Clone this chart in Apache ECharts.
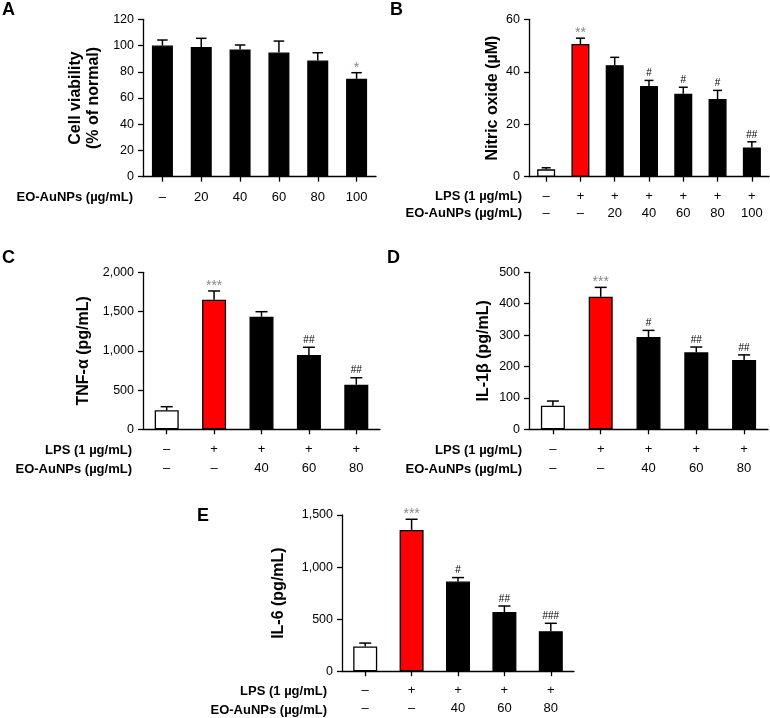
<!DOCTYPE html>
<html>
<head>
<meta charset="utf-8">
<script src="https://cdn.jsdelivr.net/npm/echarts@6/dist/echarts.min.js"></script>
<style>
html,body{margin:0;padding:0;background:#fff;}
#chart{width:770px;height:718px;}
</style>
</head>
<body>
<div id="chart"></div>
<script>
// ---------- data ----------
// Panel A
var aEO = ['–','20','40','60','80','100'];
var aVal = [100, 98.8, 97, 94.7, 88.6, 74.6];
var aSD = [4.2, 6.7, 3.4, 8.7, 5.9, 4.7];
var aAnn = ['', '', '', '', '', '*'];
var aTicks = [0, 20, 40, 60, 80, 100, 120];
// Panel B
var bLPS = ['–','+','+','+','+','+','+'];
var bEO = ['–','–','20','40','60','80','100'];
var bVal = [2.8, 50.6, 42.5, 34.6, 31.6, 29.6, 11.1];
var bSD = [0.6, 2.2, 3.0, 2.1, 2.5, 3.3, 2.2];
var bAnn = ['', '**', '', '#', '#', '#', '##'];
var bTicks = [0, 20, 40, 60];
// Panel C
var cLPS = ['–','+','+','+','+'];
var cEO = ['–','–','40','60','80'];
var cVal = [242, 1651, 1434, 946, 568];
var cSD = [46, 111, 64, 99, 89];
var cAnn = ['', '***', '', '##', '##'];
var cTicks = [0, 500, 1000, 1500, 2000];
// Panel D
var dLPS = ['–','+','+','+','+'];
var dEO = ['–','–','40','60','80'];
var dVal = [75, 422, 294, 245, 221];
var dSD = [15, 30, 21, 17, 16];
var dAnn = ['', '***', '#', '##', '##'];
var dTicks = [0, 100, 200, 300, 400, 500];
// Panel E
var eLPS = ['–','+','+','+','+'];
var eEO = ['–','–','40','60','80'];
var eVal = [238, 1357, 861, 568, 384];
var eSD = [32, 102, 38, 58, 76];
var eAnn = ['', '***', '#', '##', '###'];
var eTicks = [0, 500, 1000, 1500];

// ---------- helpers ----------
var FONT = '"Liberation Sans", Arial, Helvetica, sans-serif';
function fmtComma(v){ return String(v).replace(/\B(?=(\d{3})+(?!\d))/g, ','); }

var panels = [
  {lps:null, eo:aEO, val:aVal, sd:aSD, ann:aAnn, ticks:aTicks, name:'Cell viability\n(% of normal)', nameGap:40, comma:false,
   grid:{left:143, top:19.3, width:233, height:157.4}, barW:21, lh:17, margin:12, ctrl:false},
  {lps:bLPS, eo:bEO, val:bVal, sd:bSD, ann:bAnn, ticks:bTicks, name:'Nitric oxide (µM)', nameGap:27, comma:false,
   grid:{left:529, top:19.3, width:240, height:157.4}, barW:18, lh:16.6, margin:11.5, ctrl:true},
  {lps:cLPS, eo:cEO, val:cVal, sd:cSD, ann:cAnn, ticks:cTicks, name:'TNF-α (pg/mL)', nameGap:50, comma:true,
   grid:{left:143, top:272.3, width:237, height:157}, barW:24, lh:19, margin:11, ctrl:true},
  {lps:dLPS, eo:dEO, val:dVal, sd:dSD, ann:dAnn, ticks:dTicks, name:'IL-1β (pg/mL)', nameGap:36, comma:false,
   grid:{left:529, top:272.3, width:239, height:157}, barW:24, lh:19, margin:11, ctrl:true},
  {lps:eLPS, eo:eEO, val:eVal, sd:eSD, ann:eAnn, ticks:eTicks, name:'IL-6 (pg/mL)', nameGap:54, comma:true,
   grid:{left:342, top:515, width:232, height:157.3}, barW:24, lh:18.4, margin:10, ctrl:true}
];

var option = {
  backgroundColor:'#fff',
  animation:false,
  textStyle:{fontFamily:FONT},
  grid:[], xAxis:[], yAxis:[], series:[], graphic:[]
};

panels.forEach(function(p, gi){
  option.grid.push(p.grid);
  var cats = p.eo.map(function(e, i){ return p.lps ? (p.lps[i] + '\n' + e) : e; });
  option.xAxis.push({
    type:'category', gridIndex:gi, data:cats, boundaryGap:true,
    axisLine:{lineStyle:{color:'#000', width:1.3}},
    axisTick:{show:true, alignWithLabel:true, length:5, lineStyle:{color:'#000', width:1.3}},
    axisLabel:{color:'#000', fontSize:13, fontFamily:FONT, lineHeight:p.lh, margin:p.margin, interval:0}
  });
  var n = p.ticks.length;
  option.yAxis.push({
    type:'value', gridIndex:gi, min:p.ticks[0], max:p.ticks[n-1], interval:p.ticks[1]-p.ticks[0],
    splitLine:{show:false},
    axisLine:{show:true, lineStyle:{color:'#000', width:1.3}},
    axisTick:{show:true, length:5, lineStyle:{color:'#000', width:1.3}},
    axisLabel:{color:'#000', fontSize:12.5, fontFamily:FONT, margin:9,
      formatter:function(v){ return p.comma ? fmtComma(v) : String(v); }},
    name:p.name, nameLocation:'middle', nameRotate:90, nameGap:p.nameGap,
    nameTextStyle:{color:'#000', fontSize:16, fontWeight:'bold', fontFamily:FONT, lineHeight:18}
  });
  option.series.push({
    type:'bar', xAxisIndex:gi, yAxisIndex:gi, barWidth:p.barW,
    data:p.val.map(function(v, i){
      var fill = '#000';
      if (p.ctrl && i === 0) fill = '#fff';
      if (p.ctrl && i === 1) fill = '#ff0000';
      return {value:v, itemStyle:{color:fill, borderColor:'#000', borderWidth:1.3}};
    }),
    z:2
  });
  option.series.push({
    type:'custom', xAxisIndex:gi, yAxisIndex:gi, z:3, clip:false,
    data:p.val.map(function(v, i){ return [i, v, v + p.sd[i]]; }),
    encode:{x:0, y:[1,2]},
    renderItem:function(params, api){
      var i = api.value(0);
      var pv = api.coord([i, api.value(1)]);
      var pt = api.coord([i, api.value(2)]);
      var cap = p.barW * 0.25;
      var ann = p.ann[params.dataIndex];
      var isStar = ann.indexOf('*') >= 0;
      var children = [
        {type:'line', shape:{x1:pv[0], y1:pv[1], x2:pt[0], y2:pt[1]}, style:{stroke:'#000', lineWidth:1.5}},
        {type:'line', shape:{x1:pt[0]-cap, y1:pt[1], x2:pt[0]+cap, y2:pt[1]}, style:{stroke:'#000', lineWidth:1.5}}
      ];
      if (ann) {
        children.push({type:'text', style:{
          text:ann, x:pt[0], y:isStar ? pt[1]+2 : pt[1]-2,
          align:'center', verticalAlign:'bottom',
          fill:isStar ? '#888' : '#000',
          fontSize:isStar ? 14 : 10, fontFamily:FONT
        }});
      }
      return {type:'group', children:children};
    }
  });
});

// panel letters
var letters = [['A',2,1],['B',390,1],['C',2,249],['D',387,249],['E',197,507]];
letters.forEach(function(l){
  option.graphic.push({type:'text', left:l[1], top:l[2],
    style:{text:l[0], fontSize:18, fontWeight:'bold', fill:'#000', fontFamily:FONT}});
});
// row labels (right-aligned)
var rows = [
  ['EO-AuNPs (µg/mL)', 133, 197.7],
  ['LPS (1 µg/mL)', 522, 196.7], ['EO-AuNPs (µg/mL)', 522, 213.3],
  ['LPS (1 µg/mL)', 132, 450], ['EO-AuNPs (µg/mL)', 132, 469],
  ['LPS (1 µg/mL)', 522, 450], ['EO-AuNPs (µg/mL)', 522, 469],
  ['LPS (1 µg/mL)', 327, 691.7], ['EO-AuNPs (µg/mL)', 327, 710]
];
rows.forEach(function(r){
  option.graphic.push({type:'text', x:r[1], y:r[2],
    style:{text:r[0], align:'right', verticalAlign:'middle', fontSize:13, fontWeight:'bold', fill:'#000', fontFamily:FONT}});
});

var chart = echarts.init(document.getElementById('chart'), null, {renderer:'canvas'});
chart.setOption(option);
</script>
</body>
</html>
